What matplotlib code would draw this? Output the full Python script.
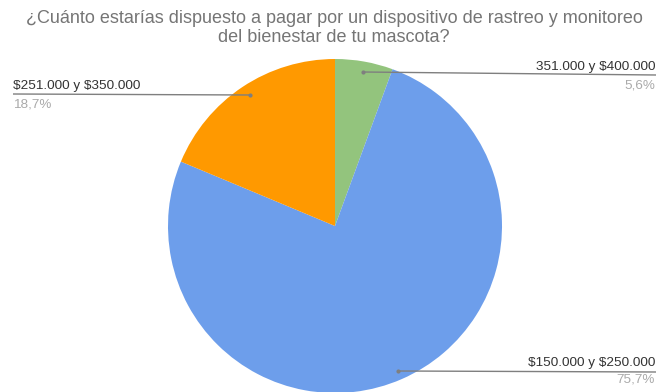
import matplotlib.pyplot as plt

# data
labels = ["351.000 y $400.000", "$150.000 y $250.000", "$251.000 y $350.000"]
shares = [5.6, 75.7, 18.7]
pct_labels = ["5,6%", "75,7%", "18,7%"]
colors = ["#93c47d", "#6d9eeb", "#ff9900"]
title = "¿Cuánto estarías dispuesto a pagar por un dispositivo de rastreo y monitoreo\ndel bienestar de tu mascota?"

plt.rcParams['font.family'] = ['Liberation Sans', 'DejaVu Sans']
plt.rcParams['text.parse_math'] = False

W, H = 656, 392
fig = plt.figure(figsize=(W / 100, H / 100), dpi=100)
ax = fig.add_axes([0, 0, 1, 1])

# pixel-ish coords, y measured up from bottom
ax.pie(shares, colors=colors, startangle=90, counterclock=False,
       center=(335, H - 226), radius=167, frame=True,
       wedgeprops=dict(linewidth=0))
ax.set_xlim(0, W)
ax.set_ylim(0, H)
ax.set_aspect('equal')
ax.axis('off')

fig.text(334 / W, 1 - 28 / H, title, ha='center', va='center',
         fontsize=13.0, color='#757575', linespacing=1.08)

lc = '#7f7f7f'
tc = '#333333'
pc = '#aaaaaa'
fs = 9.7
# green (top right)
ax.plot([363, 656], [H - 72, H - 75], color=lc, lw=1, solid_capstyle='butt')
ax.plot([363], [H - 72], 'o', ms=2, color=lc)
ax.text(655, H - 67, labels[0], ha='right', va='center', fontsize=fs, color=tc)
ax.text(655, H - 85, pct_labels[0], ha='right', va='center', fontsize=fs, color=pc)

# blue (bottom right)
ax.plot([398, 656], [H - 371, H - 372], color=lc, lw=1, solid_capstyle='butt')
ax.plot([398], [H - 371], 'o', ms=2, color=lc)
ax.text(655, H - 363, labels[1], ha='right', va='center', fontsize=fs, color=tc)
ax.text(655, H - 380, pct_labels[1], ha='right', va='center', fontsize=fs, color=pc)

# orange (left)
ax.plot([13, 250], [H - 94, H - 95], color=lc, lw=1, solid_capstyle='butt')
ax.plot([250], [H - 95], 'o', ms=2, color=lc)
ax.text(13, H - 86, labels[2], ha='left', va='center', fontsize=fs, color=tc)
ax.text(13, H - 104, pct_labels[2], ha='left', va='center', fontsize=fs, color=pc)

fig.savefig("out.png", dpi=100)
